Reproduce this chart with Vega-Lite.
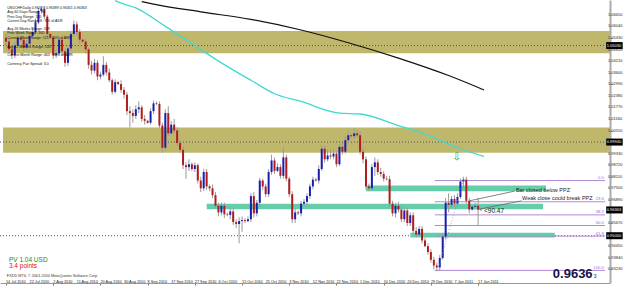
{
"$schema": "https://vega.github.io/schema/vega-lite/v6.json",
"width": 610, "height": 283,
"autosize": {"type": "none"},
"padding": {"left": 0, "top": 0, "right": 15, "bottom": 9},
"background": "white",
"config": {
 "view": {"stroke": null},
 "font": "Liberation Sans",
 "axisX": {"labels": false, "grid": false, "tickSize": 2, "tickColor": "#777", "domainColor": "#999", "title": null},
 "axisY": {"labels": false, "grid": false, "tickSize": 2, "tickColor": "#777", "domainColor": "#aaa", "domainWidth": 2, "title": null}
},
"datasets": {
 "candles": [
{"i":0,"o":1.0544,"h":1.0564,"l":1.0503,"c":1.0524},
{"i":1,"o":1.0524,"h":1.0544,"l":1.0462,"c":1.0483},
{"i":2,"o":1.0483,"h":1.0503,"l":1.0432,"c":1.0452},
{"i":3,"o":1.0452,"h":1.0524,"l":1.0437,"c":1.0503},
{"i":4,"o":1.0503,"h":1.0564,"l":1.0493,"c":1.0544},
{"i":5,"o":1.0544,"h":1.0554,"l":1.0524,"c":1.0534},
{"i":6,"o":1.0534,"h":1.0549,"l":1.0473,"c":1.0493},
{"i":7,"o":1.0493,"h":1.0534,"l":1.0478,"c":1.0513},
{"i":8,"o":1.0513,"h":1.0574,"l":1.0498,"c":1.0554},
{"i":9,"o":1.0554,"h":1.0595,"l":1.0539,"c":1.0574},
{"i":10,"o":1.0574,"h":1.0646,"l":1.0564,"c":1.0625},
{"i":11,"o":1.0625,"h":1.0702,"l":1.0615,"c":1.0686},
{"i":12,"o":1.0686,"h":1.0707,"l":1.0671,"c":1.0697},
{"i":13,"o":1.0697,"h":1.0707,"l":1.0641,"c":1.0656},
{"i":14,"o":1.0656,"h":1.0666,"l":1.0544,"c":1.0564},
{"i":15,"o":1.0564,"h":1.0569,"l":1.0539,"c":1.0544},
{"i":16,"o":1.0544,"h":1.0554,"l":1.0432,"c":1.0452},
{"i":17,"o":1.0452,"h":1.0478,"l":1.0437,"c":1.0462},
{"i":18,"o":1.0462,"h":1.0549,"l":1.0452,"c":1.0534},
{"i":19,"o":1.0534,"h":1.0544,"l":1.0452,"c":1.0473},
{"i":20,"o":1.0473,"h":1.0488,"l":1.0391,"c":1.0412},
{"i":21,"o":1.0412,"h":1.0503,"l":1.0396,"c":1.0488},
{"i":22,"o":1.0488,"h":1.0580,"l":1.0473,"c":1.0564},
{"i":23,"o":1.0564,"h":1.0636,"l":1.0549,"c":1.0615},
{"i":24,"o":1.0615,"h":1.0630,"l":1.0554,"c":1.0574},
{"i":25,"o":1.0574,"h":1.0590,"l":1.0513,"c":1.0534},
{"i":26,"o":1.0534,"h":1.0539,"l":1.0518,"c":1.0524},
{"i":27,"o":1.0524,"h":1.0539,"l":1.0462,"c":1.0483},
{"i":28,"o":1.0483,"h":1.0493,"l":1.0381,"c":1.0401},
{"i":29,"o":1.0401,"h":1.0422,"l":1.0350,"c":1.0371},
{"i":30,"o":1.0371,"h":1.0432,"l":1.0356,"c":1.0412},
{"i":31,"o":1.0412,"h":1.0427,"l":1.0320,"c":1.0340},
{"i":32,"o":1.0340,"h":1.0366,"l":1.0325,"c":1.0350},
{"i":33,"o":1.0350,"h":1.0447,"l":1.0340,"c":1.0401},
{"i":34,"o":1.0401,"h":1.0417,"l":1.0345,"c":1.0361},
{"i":35,"o":1.0361,"h":1.0381,"l":1.0310,"c":1.0320},
{"i":36,"o":1.0320,"h":1.0330,"l":1.0244,"c":1.0259},
{"i":37,"o":1.0259,"h":1.0325,"l":1.0249,"c":1.0310},
{"i":38,"o":1.0310,"h":1.0315,"l":1.0295,"c":1.0300},
{"i":39,"o":1.0300,"h":1.0320,"l":1.0254,"c":1.0269},
{"i":40,"o":1.0269,"h":1.0284,"l":1.0223,"c":1.0244},
{"i":41,"o":1.0244,"h":1.0259,"l":1.0137,"c":1.0157},
{"i":42,"o":1.0157,"h":1.0183,"l":1.0071,"c":1.0147},
{"i":43,"o":1.0147,"h":1.0167,"l":1.0096,"c":1.0132},
{"i":44,"o":1.0132,"h":1.0188,"l":1.0116,"c":1.0167},
{"i":45,"o":1.0167,"h":1.0208,"l":1.0147,"c":1.0177},
{"i":46,"o":1.0177,"h":1.0188,"l":1.0101,"c":1.0116},
{"i":47,"o":1.0116,"h":1.0137,"l":1.0086,"c":1.0106},
{"i":48,"o":1.0106,"h":1.0111,"l":1.0091,"c":1.0096},
{"i":49,"o":1.0096,"h":1.0172,"l":1.0086,"c":1.0157},
{"i":50,"o":1.0157,"h":1.0213,"l":1.0142,"c":1.0198},
{"i":51,"o":1.0198,"h":1.0208,"l":1.0188,"c":1.0195},
{"i":52,"o":1.0195,"h":1.0208,"l":1.0066,"c":1.0081},
{"i":53,"o":1.0081,"h":1.0096,"l":0.9938,"c":0.9964},
{"i":54,"o":0.9964,"h":1.0167,"l":0.9953,"c":1.0147},
{"i":55,"o":1.0147,"h":1.0183,"l":1.0025,"c":1.0040},
{"i":56,"o":1.0040,"h":1.0106,"l":1.0030,"c":1.0086},
{"i":57,"o":1.0086,"h":1.0116,"l":1.0040,"c":1.0055},
{"i":58,"o":1.0055,"h":1.0071,"l":0.9974,"c":0.9989},
{"i":59,"o":0.9989,"h":1.0004,"l":0.9938,"c":0.9953},
{"i":60,"o":0.9953,"h":0.9969,"l":0.9852,"c":0.9872},
{"i":61,"o":0.9872,"h":0.9887,"l":0.9801,"c":0.9862},
{"i":62,"o":0.9862,"h":0.9903,"l":0.9842,"c":0.9877},
{"i":63,"o":0.9877,"h":0.9887,"l":0.9842,"c":0.9852},
{"i":64,"o":0.9852,"h":0.9887,"l":0.9836,"c":0.9872},
{"i":65,"o":0.9872,"h":0.9882,"l":0.9775,"c":0.9791},
{"i":66,"o":0.9791,"h":0.9811,"l":0.9730,"c":0.9750},
{"i":67,"o":0.9750,"h":0.9852,"l":0.9735,"c":0.9836},
{"i":68,"o":0.9836,"h":0.9852,"l":0.9740,"c":0.9760},
{"i":69,"o":0.9760,"h":0.9770,"l":0.9735,"c":0.9750},
{"i":70,"o":0.9750,"h":0.9770,"l":0.9699,"c":0.9714},
{"i":71,"o":0.9714,"h":0.9730,"l":0.9643,"c":0.9658},
{"i":72,"o":0.9658,"h":0.9674,"l":0.9602,"c":0.9623},
{"i":73,"o":0.9623,"h":0.9674,"l":0.9608,"c":0.9658},
{"i":74,"o":0.9658,"h":0.9674,"l":0.9592,"c":0.9613},
{"i":75,"o":0.9613,"h":0.9623,"l":0.9602,"c":0.9610},
{"i":76,"o":0.9610,"h":0.9648,"l":0.9587,"c":0.9628},
{"i":77,"o":0.9628,"h":0.9643,"l":0.9557,"c":0.9572},
{"i":78,"o":0.9572,"h":0.9587,"l":0.9541,"c":0.9562},
{"i":79,"o":0.9562,"h":0.9597,"l":0.9460,"c":0.9577},
{"i":80,"o":0.9577,"h":0.9602,"l":0.9521,"c":0.9582},
{"i":81,"o":0.9582,"h":0.9592,"l":0.9567,"c":0.9577},
{"i":82,"o":0.9577,"h":0.9602,"l":0.9572,"c":0.9587},
{"i":83,"o":0.9587,"h":0.9724,"l":0.9572,"c":0.9709},
{"i":84,"o":0.9709,"h":0.9730,"l":0.9597,"c":0.9618},
{"i":85,"o":0.9618,"h":0.9689,"l":0.9602,"c":0.9674},
{"i":86,"o":0.9674,"h":0.9806,"l":0.9653,"c":0.9791},
{"i":87,"o":0.9791,"h":0.9801,"l":0.9740,"c":0.9760},
{"i":88,"o":0.9760,"h":0.9775,"l":0.9704,"c":0.9719},
{"i":89,"o":0.9719,"h":0.9852,"l":0.9704,"c":0.9836},
{"i":90,"o":0.9836,"h":0.9928,"l":0.9821,"c":0.9897},
{"i":91,"o":0.9897,"h":0.9913,"l":0.9826,"c":0.9842},
{"i":92,"o":0.9842,"h":0.9882,"l":0.9836,"c":0.9862},
{"i":93,"o":0.9862,"h":0.9877,"l":0.9801,"c":0.9816},
{"i":94,"o":0.9816,"h":0.9964,"l":0.9801,"c":0.9913},
{"i":95,"o":0.9913,"h":0.9928,"l":0.9786,"c":0.9801},
{"i":96,"o":0.9801,"h":0.9811,"l":0.9704,"c":0.9719},
{"i":97,"o":0.9719,"h":0.9735,"l":0.9567,"c":0.9587},
{"i":98,"o":0.9587,"h":0.9643,"l":0.9567,"c":0.9623},
{"i":99,"o":0.9623,"h":0.9633,"l":0.9608,"c":0.9618},
{"i":100,"o":0.9618,"h":0.9684,"l":0.9602,"c":0.9669},
{"i":101,"o":0.9669,"h":0.9694,"l":0.9653,"c":0.9679},
{"i":102,"o":0.9679,"h":0.9724,"l":0.9663,"c":0.9709},
{"i":103,"o":0.9709,"h":0.9775,"l":0.9694,"c":0.9760},
{"i":104,"o":0.9760,"h":0.9811,"l":0.9745,"c":0.9796},
{"i":105,"o":0.9796,"h":0.9806,"l":0.9786,"c":0.9791},
{"i":106,"o":0.9791,"h":0.9872,"l":0.9775,"c":0.9852},
{"i":107,"o":0.9852,"h":0.9979,"l":0.9842,"c":0.9959},
{"i":108,"o":0.9959,"h":0.9974,"l":0.9887,"c":0.9903},
{"i":109,"o":0.9903,"h":0.9953,"l":0.9892,"c":0.9923},
{"i":110,"o":0.9923,"h":0.9953,"l":0.9903,"c":0.9918},
{"i":111,"o":0.9918,"h":0.9953,"l":0.9903,"c":0.9933},
{"i":112,"o":0.9933,"h":0.9948,"l":0.9862,"c":0.9877},
{"i":113,"o":0.9877,"h":0.9984,"l":0.9867,"c":0.9969},
{"i":114,"o":0.9969,"h":0.9989,"l":0.9928,"c":0.9943},
{"i":115,"o":0.9943,"h":1.0025,"l":0.9933,"c":1.0004},
{"i":116,"o":1.0004,"h":1.0055,"l":0.9989,"c":1.0030},
{"i":117,"o":1.0030,"h":1.0040,"l":1.0015,"c":1.0025},
{"i":118,"o":1.0025,"h":1.0066,"l":1.0010,"c":1.0040},
{"i":119,"o":1.0040,"h":1.0060,"l":1.0015,"c":1.0030},
{"i":120,"o":1.0030,"h":1.0050,"l":0.9928,"c":0.9943},
{"i":121,"o":0.9943,"h":0.9964,"l":0.9882,"c":0.9903},
{"i":122,"o":0.9903,"h":0.9918,"l":0.9745,"c":0.9760},
{"i":123,"o":0.9760,"h":0.9775,"l":0.9735,"c":0.9750},
{"i":124,"o":0.9750,"h":0.9877,"l":0.9740,"c":0.9862},
{"i":125,"o":0.9862,"h":0.9913,"l":0.9816,"c":0.9887},
{"i":126,"o":0.9887,"h":0.9903,"l":0.9821,"c":0.9836},
{"i":127,"o":0.9836,"h":0.9857,"l":0.9811,"c":0.9826},
{"i":128,"o":0.9826,"h":0.9842,"l":0.9786,"c":0.9801},
{"i":129,"o":0.9801,"h":0.9816,"l":0.9791,"c":0.9798},
{"i":130,"o":0.9798,"h":0.9816,"l":0.9653,"c":0.9669},
{"i":131,"o":0.9669,"h":0.9684,"l":0.9602,"c":0.9618},
{"i":132,"o":0.9618,"h":0.9674,"l":0.9597,"c":0.9658},
{"i":133,"o":0.9658,"h":0.9679,"l":0.9623,"c":0.9638},
{"i":134,"o":0.9638,"h":0.9658,"l":0.9572,"c":0.9587},
{"i":135,"o":0.9587,"h":0.9648,"l":0.9572,"c":0.9633},
{"i":136,"o":0.9633,"h":0.9648,"l":0.9551,"c":0.9567},
{"i":137,"o":0.9567,"h":0.9623,"l":0.9551,"c":0.9608},
{"i":138,"o":0.9608,"h":0.9623,"l":0.9511,"c":0.9526},
{"i":139,"o":0.9526,"h":0.9546,"l":0.9490,"c":0.9506},
{"i":140,"o":0.9506,"h":0.9551,"l":0.9495,"c":0.9536},
{"i":141,"o":0.9536,"h":0.9551,"l":0.9460,"c":0.9475},
{"i":142,"o":0.9475,"h":0.9490,"l":0.9439,"c":0.9445},
{"i":143,"o":0.9445,"h":0.9460,"l":0.9399,"c":0.9414},
{"i":144,"o":0.9414,"h":0.9429,"l":0.9358,"c":0.9373},
{"i":145,"o":0.9373,"h":0.9389,"l":0.9322,"c":0.9343},
{"i":146,"o":0.9343,"h":0.9358,"l":0.9312,"c":0.9333},
{"i":147,"o":0.9333,"h":0.9399,"l":0.9317,"c":0.9383},
{"i":148,"o":0.9383,"h":0.9511,"l":0.9373,"c":0.9495},
{"i":149,"o":0.9495,"h":0.9699,"l":0.9480,"c":0.9674},
{"i":150,"o":0.9674,"h":0.9724,"l":0.9623,"c":0.9663},
{"i":151,"o":0.9663,"h":0.9709,"l":0.9648,"c":0.9694},
{"i":152,"o":0.9694,"h":0.9714,"l":0.9653,"c":0.9669},
{"i":153,"o":0.9669,"h":0.9724,"l":0.9658,"c":0.9704},
{"i":154,"o":0.9704,"h":0.9801,"l":0.9694,"c":0.9786},
{"i":155,"o":0.9786,"h":0.9811,"l":0.9750,"c":0.9796},
{"i":156,"o":0.9796,"h":0.9811,"l":0.9669,"c":0.9684},
{"i":157,"o":0.9684,"h":0.9699,"l":0.9618,"c":0.9638},
{"i":158,"o":0.9638,"h":0.9663,"l":0.9633,"c":0.9653},
{"i":159,"o":0.9653,"h":0.9674,"l":0.9638,"c":0.9658},
{"i":160,"o":0.9658,"h":0.9699,"l":0.9557,"c":0.9638},
{"i":161,"o":0.9638,"h":0.9648,"l":0.9628,"c":0.9636}
 ],
 "cyan": [{"i":37,"v":1.0740},{"i":39,"v":1.0727},{"i":44,"v":1.0702},{"i":53,"v":1.0615},{"i":63,"v":1.0513},{"i":73,"v":1.0412},{"i":83,"v":1.0320},{"i":91,"v":1.0249},{"i":100,"v":1.0208},{"i":113,"v":1.0147},{"i":120,"v":1.0142},{"i":133,"v":1.0081},{"i":143,"v":1.0030},{"i":153,"v":0.9964},{"i":162,"v":0.9918}],
 "black": [{"i":46,"v":1.0735},{"i":50,"v":1.0722},{"i":66,"v":1.0681},{"i":83,"v":1.0641},{"i":100,"v":1.0585},{"i":116,"v":1.0518},{"i":133,"v":1.0437},{"i":150,"v":1.0345},{"i":162,"v":1.0269}],
 "olive": [{"p1":1.0580,"p2":1.0462},{"p1":1.0071,"p2":0.9938}],
 "dots": [{"p":1.0503},{"p":0.9994},{"p":0.9500}],
 "teal": [{"a":122,"b":183,"p1":0.9765,"p2":0.9735},{"a":68,"b":182,"p1":0.9669,"p2":0.9640},{"a":137,"b":186,"p1":0.9516,"p2":0.9490}],
 "fib": [{"p":0.9791,"t":"0.0"},{"p":0.9679,"t":"23.6"},{"p":0.9610,"t":"38.2"},{"p":0.9554,"t":"50.0"},{"p":0.9498,"t":"61.8"},{"p":0.9317,"t":"100.0"}],
 "segs": [{"x1":157,"p1":0.9684,"x2":172.3,"p2":0.9735},{"x1":159.7,"p1":0.9638,"x2":174.7,"p2":0.9684}],
 "diag": [{"x1":146.3,"p1":0.9317,"x2":155,"p2":0.9791}],
 "ann": [{"i":172.8,"p":0.9742,"t":"Bar closed below PPZ"},{"i":174.9,"p":0.9697,"t":"Weak close could break PPZ"}],
 "lvl": [{"i":162,"p":0.9628,"t":"<90.47"}],
 "arrow": [{"i":152.7,"p":0.9913,"t":"⇩"}],
 "info": [
  {"p":1.0702,"t":"USDCHF,Daily  0.96377 0.96389 0.96301 0.96363"},
  {"p":1.0678,"t":"Avg 60 Days Range: 96"},
  {"p":1.0655,"t":"Prev Day Range: 105"},
  {"p":1.0632,"t":"Current Day Range: 8 : 8% of ADR"},
  {"p":1.0590,"t":"Avg 26 Weeks Range: 329"},
  {"p":1.0567,"t":"Prev Week Range: 160"},
  {"p":1.0544,"t":"Current Week Range: 121 : 40% of AWR"},
  {"p":1.0498,"t":"Avg 12 Months Range: 553"},
  {"p":1.0452,"t":"Current Month Range: 463 : 85% of AMR"},
  {"p":1.0407,"t":"Currency Pair Spread: 3.0"}
 ],
 "pv": [{"p":0.9373,"t":"PV  1.04 USD"}],
 "pts": [{"p":0.9340,"t":"3.4 points"}],
 "copy": [{"p":0.9287,"t":"FXDD MT4, © 2001-2010 MetaQuotes Software Corp."}],
 "big": [{"p":0.9296,"t":"0.9636"}],
 "bigs": [{"p":0.9286,"t":"3"}],
 "hl": [{"p":1.0503,"t":"1.05030"},{"p":0.9994,"t":"0.99940"},{"p":0.9636,"t":"0.96363"},{"p":0.9500,"t":"0.95000"}],
 "xl": [{"i":0,"t":"14 Jul 2010"},{"i":8,"t":"22 Jul 2010"},{"i":16,"t":"2 Aug 2010"},{"i":24,"t":"11 Aug 2010"},{"i":32,"t":"20 Aug 2010"},{"i":40,"t":"30 Aug 2010"},{"i":48,"t":"8 Sep 2010"},{"i":56,"t":"17 Sep 2010"},{"i":64,"t":"27 Sep 2010"},{"i":72,"t":"6 Oct 2010"},{"i":80,"t":"15 Oct 2010"},{"i":88,"t":"25 Oct 2010"},{"i":96,"t":"3 Nov 2010"},{"i":104,"t":"12 Nov 2010"},{"i":112,"t":"22 Nov 2010"},{"i":120,"t":"1 Dec 2010"},{"i":128,"t":"10 Dec 2010"},{"i":136,"t":"20 Dec 2010"},{"i":144,"t":"29 Dec 2010"},{"i":152,"t":"7 Jan 2011"},{"i":160,"t":"17 Jan 2011"}],
 "yl": [{"p":1.0665,"t":"1.06650"},{"p":1.0604,"t":"1.06040"},{"p":1.0543,"t":"1.05430"},{"p":1.0482,"t":"1.04820"},{"p":1.0421,"t":"1.04210"},{"p":1.0360,"t":"1.03600"},{"p":1.0299,"t":"1.02990"},{"p":1.0238,"t":"1.02380"},{"p":1.0177,"t":"1.01770"},{"p":1.0116,"t":"1.01160"},{"p":1.0055,"t":"1.00550"},{"p":0.9933,"t":"0.99330"},{"p":0.9872,"t":"0.98720"},{"p":0.9811,"t":"0.98110"},{"p":0.9750,"t":"0.97500"},{"p":0.9689,"t":"0.96890"},{"p":0.9567,"t":"0.95670"},{"p":0.9445,"t":"0.94450"},{"p":0.9384,"t":"0.93840"},{"p":0.9323,"t":"0.93230"}]
},
"layer": [
 {"data": {"name": "olive"}, "mark": {"type": "rect", "color": "#bfb86c", "clip": true},
  "encoding": {
   "x": {"datum": -1, "type": "quantitative", "scale": {"domain": [-0.333, 203], "nice": false, "zero": false}, "title": null},
   "x2": {"datum": 205},
   "y": {"field": "p1", "type": "quantitative", "scale": {"domain": [0.9277, 1.0717], "nice": false, "zero": false}, "title": null},
   "y2": {"field": "p2"}}},
 {"data": {"name": "dots"}, "mark": {"type": "rule", "color": "#555", "strokeDash": [1, 2], "strokeWidth": 1},
  "encoding": {"y": {"field": "p", "type": "quantitative", "title": null}}},
 {"data": {"name": "teal"}, "mark": {"type": "rect", "color": "#66cdaa", "clip": true},
  "encoding": {"x": {"field": "a", "type": "quantitative", "title": null}, "x2": {"field": "b"}, "y": {"field": "p1", "type": "quantitative", "title": null}, "y2": {"field": "p2"}}},
 {"data": {"name": "fib"}, "mark": {"type": "rule", "color": "#b08ad6", "strokeWidth": 1},
  "encoding": {"x": {"datum": 145.3, "type": "quantitative", "title": null}, "x2": {"datum": 203}, "y": {"field": "p", "type": "quantitative", "title": null}}},
 {"data": {"name": "fib"}, "mark": {"type": "text", "color": "#9a6ccc", "fontSize": 4.2, "align": "right", "baseline": "bottom", "dy": -0.5},
  "encoding": {"x": {"datum": 202.6, "type": "quantitative", "title": null}, "y": {"field": "p", "type": "quantitative", "title": null}, "text": {"field": "t"}}},
 {"data": {"name": "cyan"}, "mark": {"type": "line", "color": "#3fd9d2", "strokeWidth": 1.3, "interpolate": "monotone", "clip": true},
  "encoding": {"x": {"field": "i", "type": "quantitative", "title": null}, "y": {"field": "v", "type": "quantitative", "title": null}}},
 {"data": {"name": "black"}, "mark": {"type": "line", "color": "#111111", "strokeWidth": 1.2, "interpolate": "monotone", "clip": true},
  "encoding": {"x": {"field": "i", "type": "quantitative", "title": null}, "y": {"field": "v", "type": "quantitative", "title": null}}},
 {"data": {"name": "candles"}, "mark": {"type": "rule", "color": "#9a9a9a", "strokeWidth": 1},
  "encoding": {
   "x": {"field": "i", "type": "quantitative", "title": null,
     "axis": {"labels": false, "grid": false, "tickSize": 2, "tickColor": "#777", "domainColor": "#999",
       "values": [0,8,16,24,32,40,48,56,64,72,80,88,96,104,112,120,128,136,144,152,160]}},
   "y": {"field": "h", "type": "quantitative", "title": null,
     "axis": {"orient": "right", "labels": false, "grid": false, "tickSize": 2, "tickColor": "#777", "domainColor": "#aaa", "domainWidth": 2,
       "values": [1.0665,1.0604,1.0543,1.0482,1.0421,1.0360,1.0299,1.0238,1.0177,1.0116,1.0055,0.9994,0.9933,0.9872,0.9811,0.9750,0.9689,0.9628,0.9567,0.9506,0.9445,0.9384,0.9323]}},
   "y2": {"field": "l"}}},
 {"data": {"name": "candles"}, "mark": {"type": "bar", "size": 2},
  "encoding": {
   "x": {"field": "i", "type": "quantitative", "title": null},
   "y": {"field": "o", "type": "quantitative", "title": null},
   "y2": {"field": "c"},
   "color": {"condition": {"test": "datum.c >= datum.o", "value": "#1c1cb0"}, "value": "#b01c1c"}}},
 {"data": {"name": "segs"}, "mark": {"type": "rule", "color": "#666", "strokeWidth": 0.8},
  "encoding": {"x": {"field": "x1", "type": "quantitative", "title": null}, "x2": {"field": "x2"}, "y": {"field": "p1", "type": "quantitative", "title": null}, "y2": {"field": "p2"}}},
 {"data": {"name": "diag"}, "mark": {"type": "rule", "color": "#999", "strokeWidth": 0.8, "strokeDash": [1, 2]},
  "encoding": {"x": {"field": "x1", "type": "quantitative", "title": null}, "x2": {"field": "x2"}, "y": {"field": "p1", "type": "quantitative", "title": null}, "y2": {"field": "p2"}}},
 {"data": {"name": "ann"}, "mark": {"type": "text", "color": "#222", "fontSize": 5.5, "align": "left", "baseline": "middle"},
  "encoding": {"x": {"field": "i", "type": "quantitative", "title": null}, "y": {"field": "p", "type": "quantitative", "title": null}, "text": {"field": "t"}}},
 {"data": {"name": "lvl"}, "mark": {"type": "text", "color": "#222", "fontSize": 6.5, "align": "left", "baseline": "middle"},
  "encoding": {"x": {"field": "i", "type": "quantitative", "title": null}, "y": {"field": "p", "type": "quantitative", "title": null}, "text": {"field": "t"}}},
 {"data": {"name": "arrow"}, "mark": {"type": "text", "color": "#1f9e1f", "fontSize": 10, "font": "DejaVu Sans", "align": "center", "baseline": "middle"},
  "encoding": {"x": {"field": "i", "type": "quantitative", "title": null}, "y": {"field": "p", "type": "quantitative", "title": null}, "text": {"field": "t"}}},
 {"data": {"name": "info"}, "mark": {"type": "text", "color": "#111", "fontSize": 3.6, "align": "left", "baseline": "middle"},
  "encoding": {"x": {"datum": 0.4, "type": "quantitative", "title": null}, "y": {"field": "p", "type": "quantitative", "title": null}, "text": {"field": "t"}}},
 {"data": {"name": "pv"}, "mark": {"type": "text", "color": "#1a8a1a", "fontSize": 6.5, "align": "left", "baseline": "middle"},
  "encoding": {"x": {"datum": 1, "type": "quantitative", "title": null}, "y": {"field": "p", "type": "quantitative", "title": null}, "text": {"field": "t"}}},
 {"data": {"name": "pts"}, "mark": {"type": "text", "color": "#dd1111", "fontSize": 6.5, "align": "left", "baseline": "middle"},
  "encoding": {"x": {"datum": 1, "type": "quantitative", "title": null}, "y": {"field": "p", "type": "quantitative", "title": null}, "text": {"field": "t"}}},
 {"data": {"name": "copy"}, "mark": {"type": "text", "color": "#333", "fontSize": 3.8, "align": "left", "baseline": "middle"},
  "encoding": {"x": {"datum": 0.3, "type": "quantitative", "title": null}, "y": {"field": "p", "type": "quantitative", "title": null}, "text": {"field": "t"}}},
 {"data": {"name": "big"}, "mark": {"type": "text", "color": "#14144a", "fontSize": 13, "fontWeight": "bold", "align": "right", "baseline": "middle"},
  "encoding": {"x": {"datum": 198.8, "type": "quantitative", "title": null}, "y": {"field": "p", "type": "quantitative", "title": null}, "text": {"field": "t"}}},
 {"data": {"name": "bigs"}, "mark": {"type": "text", "color": "#14144a", "fontSize": 5, "align": "left", "baseline": "middle"},
  "encoding": {"x": {"datum": 199.2, "type": "quantitative", "title": null}, "y": {"field": "p", "type": "quantitative", "title": null}, "text": {"field": "t"}}},
 {"data": {"name": "xl"}, "mark": {"type": "text", "color": "#222", "fontSize": 3.8, "align": "left", "baseline": "top"},
  "encoding": {"x": {"field": "i", "type": "quantitative", "title": null}, "y": {"datum": 0.9266, "type": "quantitative", "title": null}, "text": {"field": "t"}}},
 {"data": {"name": "yl"}, "mark": {"type": "text", "color": "#222", "fontSize": 4, "align": "left", "baseline": "middle"},
  "encoding": {"x": {"datum": 204.0, "type": "quantitative", "title": null}, "y": {"field": "p", "type": "quantitative", "title": null}, "text": {"field": "t"}}},
 {"data": {"name": "hl"}, "mark": {"type": "bar", "color": "#000000", "size": 7},
  "encoding": {"x": {"datum": 203.4, "type": "quantitative", "title": null}, "x2": {"datum": 209}, "y": {"field": "p", "type": "quantitative", "title": null}}},
 {"data": {"name": "hl"}, "mark": {"type": "text", "color": "#ffffff", "fontSize": 4, "align": "left", "baseline": "middle"},
  "encoding": {"x": {"datum": 203.6, "type": "quantitative", "title": null}, "y": {"field": "p", "type": "quantitative", "title": null}, "text": {"field": "t"}}}
]
}
